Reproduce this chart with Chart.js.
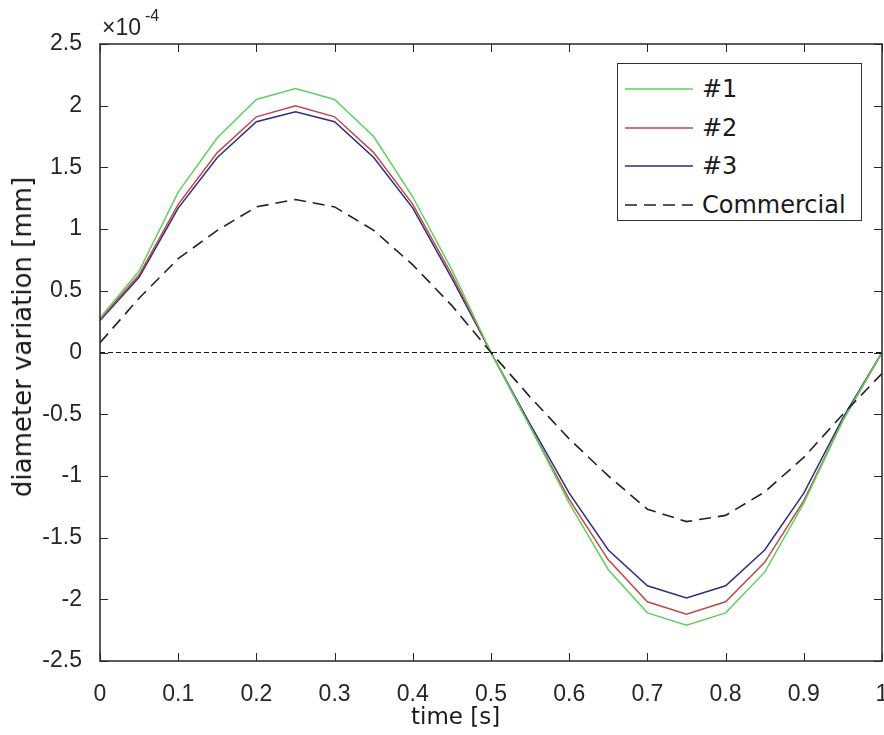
<!DOCTYPE html>
<html>
<head>
<meta charset="utf-8">
<script src="https://cdn.jsdelivr.net/npm/chart.js@4/dist/chart.umd.min.js"></script>
<style>
  html, body { margin: 0; padding: 0; background: #fff; }
  #wrap { position: relative; width: 884px; height: 735px; }
  #c { position: absolute; left: 0; top: 0; }
  .ov { position: absolute; white-space: nowrap; color: #1a1a1a; line-height: 1; }
  #expo { left: 102px; top: 16px; font-family: "Liberation Sans", Arial, sans-serif; font-size: 23px; color: #262626; }
  #expoSup { left: 145px; top: 8px; font-family: "Liberation Sans", Arial, sans-serif; font-size: 16px; color: #262626; }
  #xTitle { left: 411px; top: 705px; font-family: "DejaVu Sans", sans-serif; font-size: 23px; }
  #yTitle { left: 22px; top: 337px; font-family: "DejaVu Sans", sans-serif; font-size: 26px; transform: translate(-50%, -50%) rotate(-90deg); }
  #legend { position: absolute; left: 617px; top: 63px; width: 245px; height: 158px; border: 1px solid #333; background: #fff; box-sizing: border-box; }
  .li { position: absolute; left: 0; height: 30px; display: flex; align-items: center; }
  .li svg { margin-left: 7px; }
  .li span { margin-left: 9px; font-family: "DejaVu Sans", sans-serif; font-size: 24px; color: #1a1a1a; }
</style>
</head>
<body>
<div id="wrap">
  <canvas id="c" width="884" height="735"></canvas>
  <div id="expo" class="ov">×10</div>
  <div id="expoSup" class="ov">-4</div>
  <div id="xTitle" class="ov">time [s]</div>
  <div id="yTitle" class="ov">diameter variation [mm]</div>
  <div id="legend"></div>
</div>
<script>
// ---- data (values in units of 1e-4 mm) ----
const timeS = [0, 0.05, 0.1, 0.15, 0.2, 0.25, 0.3, 0.35, 0.4, 0.45, 0.5, 0.55, 0.6, 0.65, 0.7, 0.75, 0.8, 0.85, 0.9, 0.95, 1.0];
const sample1 = [0.28, 0.66, 1.30, 1.74, 2.05, 2.14, 2.05, 1.75, 1.26, 0.67, 0.00, -0.60, -1.22, -1.76, -2.11, -2.21, -2.11, -1.78, -1.22, -0.55, 0.00];
const sample2 = [0.27, 0.63, 1.20, 1.62, 1.91, 2.00, 1.91, 1.62, 1.20, 0.63, 0.00, -0.60, -1.19, -1.68, -2.02, -2.12, -2.02, -1.70, -1.20, -0.55, 0.00];
const sample3 = [0.26, 0.61, 1.17, 1.58, 1.87, 1.95, 1.87, 1.58, 1.17, 0.60, 0.00, -0.58, -1.14, -1.60, -1.89, -1.99, -1.89, -1.60, -1.14, -0.53, 0.00];
const commercial = [0.08, 0.44, 0.76, 0.99, 1.18, 1.24, 1.18, 0.99, 0.71, 0.38, 0.00, -0.36, -0.70, -1.00, -1.27, -1.37, -1.32, -1.13, -0.85, -0.50, -0.17];
const zeroLineX = [0, 1];
const zeroLineY = [0, 0];
const seriesNames = ['#1', '#2', '#3', 'Commercial'];
const xTicks = [0, 0.1, 0.2, 0.3, 0.4, 0.5, 0.6, 0.7, 0.8, 0.9, 1];
const yTicks = [-2.5, -2, -1.5, -1, -0.5, 0, 0.5, 1, 1.5, 2, 2.5];

const pts = (xs, ys) => xs.map((x, i) => ({ x: x, y: ys[i] }));
const AX = '#262626';

const boxTicks = {
  id: 'boxTicks',
  afterDatasetsDraw(chart) {
    const { ctx, chartArea: a, scales } = chart;
    ctx.save();
    ctx.strokeStyle = AX;
    ctx.lineWidth = 1;
    ctx.beginPath();
    const L = 8;
    xTicks.forEach(v => {
      const px = Math.round(scales.x.getPixelForValue(v)) + 0.5;
      ctx.moveTo(px, a.bottom); ctx.lineTo(px, a.bottom - L);
      ctx.moveTo(px, a.top); ctx.lineTo(px, a.top + L);
    });
    yTicks.forEach(v => {
      const py = Math.round(scales.y.getPixelForValue(v)) + 0.5;
      ctx.moveTo(a.left, py); ctx.lineTo(a.left + L, py);
      ctx.moveTo(a.right, py); ctx.lineTo(a.right - L, py);
    });
    ctx.stroke();
    ctx.lineWidth = 1.5;
    ctx.strokeRect(a.left, a.top, a.right - a.left, a.bottom - a.top);
    ctx.restore();
  }
};

const chart = new Chart(document.getElementById('c'), {
  type: 'line',
  data: {
    datasets: [
      { label: '__zero', data: pts(zeroLineX, zeroLineY), borderColor: '#1a1a1a', borderWidth: 1, borderDash: [5, 3], pointRadius: 0 },
      { label: seriesNames[3], data: pts(timeS, commercial), borderColor: '#222', borderWidth: 1.6, borderDash: [12, 7], pointRadius: 0 },
      { label: seriesNames[0], data: pts(timeS, sample1), borderColor: '#5fd15f', borderWidth: 1.5, pointRadius: 0 },
      { label: seriesNames[1], data: pts(timeS, sample2), borderColor: '#c04848', borderWidth: 1.5, pointRadius: 0 },
      { label: seriesNames[2], data: pts(timeS, sample3), borderColor: '#2e2e80', borderWidth: 1.5, pointRadius: 0 }
    ]
  },
  options: {
    responsive: false,
    animation: false,
    layout: { padding: { left: 0, top: 44, right: 2, bottom: 0 } },
    plugins: { legend: { display: false }, tooltip: { enabled: false } },
    scales: {
      x: {
        type: 'linear', min: 0, max: 1,
        afterBuildTicks: s => { s.ticks = xTicks.map(v => ({ value: v })); },
        afterFit: s => { s.height = 74; s.paddingLeft = 0; s.paddingRight = 0; },
        grid: { display: false }, border: { display: false },
        ticks: { padding: 12, color: AX, font: { family: '"Liberation Sans", Arial, sans-serif', size: 23 }, callback: v => String(v), maxRotation: 0, autoSkip: false },
        title: { display: false }
      },
      y: {
        type: 'linear', min: -2.5, max: 2.5,
        afterBuildTicks: s => { s.ticks = yTicks.map(v => ({ value: v })); },
        afterFit: s => { s.width = 100; s.paddingTop = 0; s.paddingBottom = 0; },
        grid: { display: false }, border: { display: false },
        ticks: { padding: 10, color: AX, font: { family: '"Liberation Sans", Arial, sans-serif', size: 23 }, callback: v => String(v), autoSkip: false },
        title: { display: false }
      }
    }
  },
  plugins: [boxTicks]
});

// HTML legend built from chart datasets
const legendOrder = [2, 3, 4, 1];
const lg = document.getElementById('legend');
legendOrder.forEach((di, k) => {
  const ds = chart.data.datasets[di];
  const row = document.createElement('div');
  row.className = 'li';
  row.style.top = (10 + k * 38.5) + 'px';
  const dash = ds.borderDash ? 'stroke-dasharray="12 7"' : '';
  row.innerHTML = '<svg width="68" height="4"><line x1="0" y1="2" x2="68" y2="2" stroke="' + ds.borderColor + '" stroke-width="' + ds.borderWidth + '" ' + dash + '/></svg><span>' + ds.label + '</span>';
  lg.appendChild(row);
});
</script>
</body>
</html>
